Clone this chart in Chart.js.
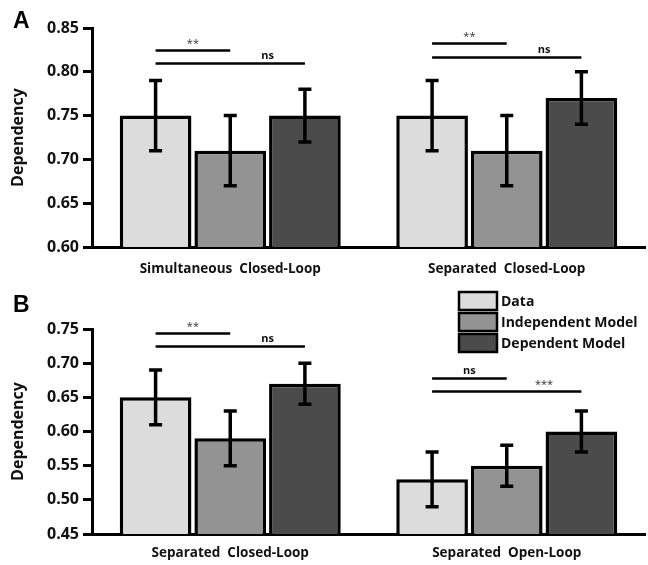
<!DOCTYPE html>
<html>
<head>
<meta charset="utf-8">
<script src="https://cdn.jsdelivr.net/npm/chart.js@4.4.1/dist/chart.umd.min.js"></script>
<style>
  html, body { margin: 0; padding: 0; background: #fff; }
  .panel { position: absolute; left: 0; }
  #panelA { top: 0; }
  #panelB { top: 280px; }
</style>
</head>
<body>
<div class="panel" id="panelA"><canvas id="chartA" width="648" height="280"></canvas></div>
<div class="panel" id="panelB"><canvas id="chartB" width="648" height="285"></canvas></div>
<script>
// Series names and colours
const seriesNames = ['Data', 'Independent Model', 'Dependent Model'];
const seriesColors = ['#dcdcdc', '#939393', '#4b4b4b'];

// Panel A
const categoriesA = ['Simultaneous  Closed-Loop', 'Separated  Closed-Loop'];
const dataA = [0.75, 0.75];
const indepA = [0.71, 0.71];
const depA = [0.75, 0.77];
const dataErrA = [0.04, 0.04];
const indepErrA = [0.04, 0.04];
const depErrA = [0.03, 0.03];
const ticksA = [0.60, 0.65, 0.70, 0.75, 0.80, 0.85];
// [category, from bar, to bar, level, label]
const sigA = [
    [0, 0, 1, 0.825, '**'],
    [0, 0, 2, 0.810, 'ns'],
    [1, 0, 1, 0.833, '**'],
    [1, 0, 2, 0.817, 'ns']
];

// Panel B
const categoriesB = ['Separated  Closed-Loop', 'Separated  Open-Loop'];
const dataB = [0.65, 0.53];
const indepB = [0.59, 0.55];
const depB = [0.67, 0.60];
const dataErrB = [0.04, 0.04];
const indepErrB = [0.04, 0.03];
const depErrB = [0.03, 0.03];
const ticksB = [0.45, 0.50, 0.55, 0.60, 0.65, 0.70, 0.75];
const sigB = [
    [0, 0, 1, 0.744, '**'],
    [0, 0, 2, 0.725, 'ns'],
    [1, 0, 1, 0.678, 'ns'],
    [1, 0, 2, 0.659, '***']
];

const FONT = "'Open Sans', 'DejaVu Sans', sans-serif";

// Error bars drawn on top of the bars
const errorBarsPlugin = {
    id: 'errorBars',
    afterDatasetsDraw(chart) {
        const ctx = chart.ctx;
        const y = chart.scales.y;
        ctx.save();
        ctx.strokeStyle = '#000';
        ctx.lineWidth = 3.5;
        ctx.lineCap = 'butt';
        chart.data.datasets.forEach((ds, i) => {
            chart.getDatasetMeta(i).data.forEach((bar, j) => {
                const top = y.getPixelForValue(ds.data[j] + ds.errors[j]);
                const bot = y.getPixelForValue(ds.data[j] - ds.errors[j]);
                ctx.beginPath();
                ctx.moveTo(bar.x, top); ctx.lineTo(bar.x, bot);
                ctx.moveTo(bar.x - 6.5, top); ctx.lineTo(bar.x + 6.5, top);
                ctx.moveTo(bar.x - 6.5, bot); ctx.lineTo(bar.x + 6.5, bot);
                ctx.stroke();
            });
        });
        ctx.restore();
    }
};

// Significance brackets
const sigPlugin = {
    id: 'sig',
    afterDatasetsDraw(chart, args, opts) {
        const ctx = chart.ctx;
        const y = chart.scales.y;
        ctx.save();
        (opts.items || []).forEach(([cat, from, to, level, label]) => {
            const x1 = chart.getDatasetMeta(from).data[cat].x;
            const x2 = chart.getDatasetMeta(to).data[cat].x;
            const xm = (chart.getDatasetMeta(to - 1).data[cat].x + x2) / 2;
            const py = Math.round(y.getPixelForValue(level)) + 0.5;
            ctx.strokeStyle = '#000';
            ctx.lineWidth = 2.5;
            ctx.beginPath();
            ctx.moveTo(x1, py); ctx.lineTo(x2, py);
            ctx.stroke();
            ctx.textAlign = 'center';
            ctx.textBaseline = 'bottom';
            if (label === 'ns') {
                ctx.fillStyle = '#111';
                ctx.font = 'bold 11px ' + FONT;
                ctx.fillText(label, xm, py - 2);
            } else {
                ctx.fillStyle = '#333';
                ctx.font = '11px ' + FONT;
                ctx.fillText(label, xm, py - 1);
            }
        });
        ctx.restore();
    }
};

// Panel letter and optional legend
const decorPlugin = {
    id: 'decor',
    afterDraw(chart, args, opts) {
        const ctx = chart.ctx;
        ctx.save();
        ctx.fillStyle = '#000';
        ctx.font = 'bold 23px "Liberation Sans", Arial, sans-serif';
        ctx.textAlign = 'left';
        ctx.textBaseline = 'alphabetic';
        ctx.fillText(opts.letter, opts.letterX, opts.letterY);
        if (opts.legend) {
            const lx = 459, ly = 12, bw = 38, bh = 18, gap = 21;
            chart.data.datasets.forEach((ds, i) => {
                const top = ly + i * gap;
                ctx.fillStyle = ds.backgroundColor;
                ctx.fillRect(lx, top, bw, bh);
                ctx.strokeStyle = '#000';
                ctx.lineWidth = 2.5;
                ctx.strokeRect(lx, top, bw, bh);
                ctx.fillStyle = '#111';
                ctx.font = 'bold 14px ' + FONT;
                ctx.textBaseline = 'middle';
                ctx.fillText(ds.label, lx + bw + 4, top + bh / 2 + 1);
            });
        }
        ctx.restore();
    }
};

function makePanel(canvasId, categories, values, errors, ticks, sig, layout) {
    const ctx = document.getElementById(canvasId).getContext('2d');
    return new Chart(ctx, {
        type: 'bar',
        data: {
            labels: categories,
            datasets: seriesNames.map((name, i) => ({
                label: name,
                data: values[i],
                errors: errors[i],
                backgroundColor: seriesColors[i],
                borderColor: '#000',
                borderWidth: 3.5,
                borderSkipped: false,
                categoryPercentage: 0.81,
                barPercentage: 0.96
            }))
        },
        options: {
            responsive: false,
            animation: false,
            layout: { padding: { left: 0, right: 3, top: layout.top, bottom: 0 } },
            plugins: {
                legend: { display: false },
                tooltip: { enabled: false },
                sig: { items: sig },
                decor: layout.decor
            },
            scales: {
                x: {
                    grid: { display: false },
                    border: { display: true, color: '#000', width: 3 },
                    ticks: {
                        color: '#111',
                        padding: layout.labelPad,
                        font: { family: FONT, weight: 'bold', size: 13.5 }
                    },
                    afterFit(scale) { scale.height = layout.xHeight; }
                },
                y: {
                    min: ticks[0],
                    max: ticks[ticks.length - 1],
                    afterBuildTicks(scale) { scale.ticks = ticks.map(v => ({ value: v })); },
                    afterFit(scale) { scale.width = 92; },
                    grid: {
                        drawOnChartArea: false,
                        drawTicks: true,
                        tickLength: 9,
                        color: '#000',
                        lineWidth: 3
                    },
                    border: { display: true, color: '#000', width: 3 },
                    ticks: {
                        color: '#111',
                        padding: 4,
                        font: { family: FONT, weight: 'bold', size: 16 },
                        callback: v => Number(v).toFixed(2)
                    },
                    title: {
                        display: true,
                        text: 'Dependency',
                        color: '#111',
                        padding: { top: 9, bottom: 0 },
                        font: { family: FONT, weight: 'bold', size: 16 }
                    }
                }
            }
        },
        plugins: [errorBarsPlugin, sigPlugin, decorPlugin]
    });
}

makePanel('chartA', categoriesA,
    [dataA, indepA, depA], [dataErrA, indepErrA, depErrA], ticksA, sigA,
    { top: 28, xHeight: 33, labelPad: 6, decor: { letter: 'A', letterX: 13, letterY: 28 } });

makePanel('chartB', categoriesB,
    [dataB, indepB, depB], [dataErrB, indepErrB, depErrB], ticksB, sigB,
    { top: 49, xHeight: 31, labelPad: 3, decor: { letter: 'B', letterX: 13, letterY: 32, legend: true } });
</script>
</body>
</html>
